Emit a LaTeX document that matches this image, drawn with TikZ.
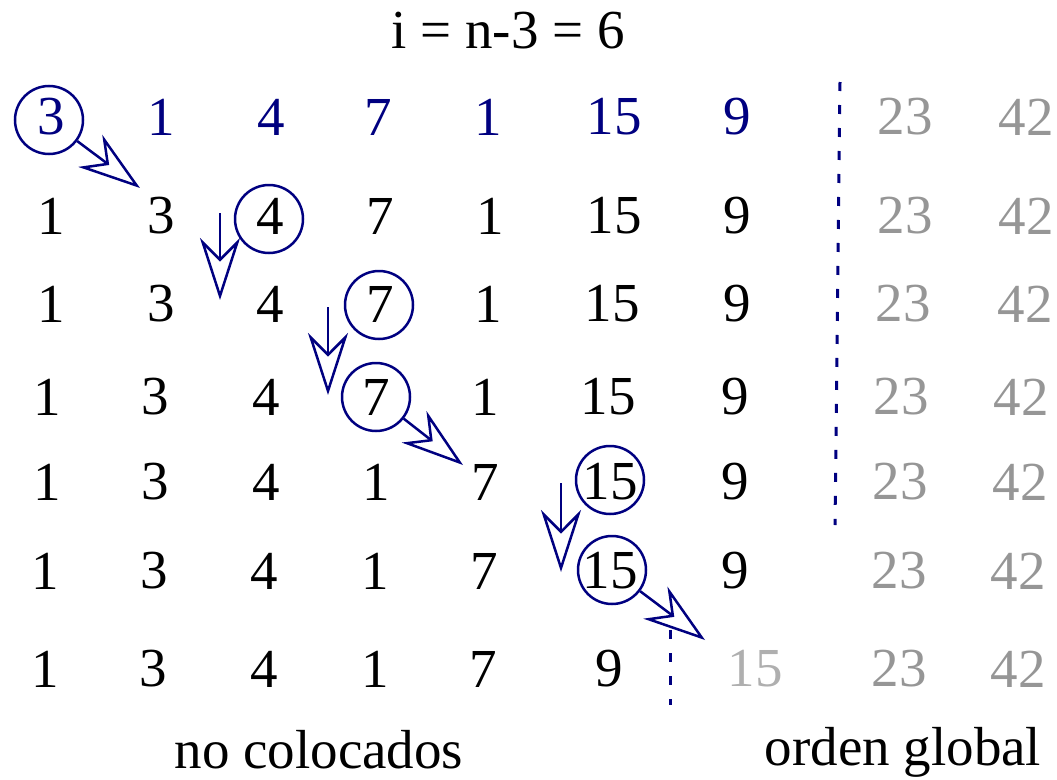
\documentclass[tikz,border=0pt]{standalone}
\usepackage{fontspec}
\setmainfont{Liberation Serif}
\newfontfamily\numfont{Liberation Serif}
\usetikzlibrary{arrows.meta}
\definecolor{navy}{RGB}{0,0,128}
\definecolor{lgray}{RGB}{150,150,150}
\definecolor{llgray}{RGB}{175,175,175}
\begin{document}
\begin{tikzpicture}[x=1pt,y=-1pt,
  num/.style={inner sep=0pt, font=\numfont\fontsize{55}{60}\selectfont},
  lbl/.style={inner sep=0pt, anchor=base, font=\numfont\fontsize{55}{60}\selectfont},
  ring/.style={circle, draw=navy, line width=2.5pt, minimum size=68pt, inner sep=0pt},
  arr/.style={draw=navy, line width=2.5pt, -{Stealth[open, length=62pt, width=40pt, inset=20pt]}},
  sep/.style={draw=navy, line width=3pt, dash pattern=on 9pt off 14pt}]
\useasboundingbox (0,0) rectangle (1057,779);
% title
\node[lbl] (title) at (508,48) {i = n-3 = 6};
% rows
\foreach \x/\t [count=\i] in {51/3,161/1,271/4,378/7,488/1,614/15,737/9}
  \node[num, text=navy] (r0c\i) at (\x,117) {\t};
\foreach \x/\t [count=\i] in {51/1,161/3,270/4,380/7,490/1,614/15,737/9}
  \node[num] (r1c\i) at (\x,216) {\t};
\foreach \x/\t [count=\i] in {51/1,161/3,270/4,380/7,488/1,612/15,737/9}
  \node[num] (r2c\i) at (\x,304) {\t};
\foreach \x/\t [count=\i] in {47/1,155/3,266/4,376/7,485/1,608/15,735/9}
  \node[num] (r3c\i) at (\x,397) {\t};
\foreach \x/\t [count=\i] in {47/1,155/3,266/4,376/1,485/7,610/15,735/9}
  \node[num] (r4c\i) at (\x,482) {\t};
\foreach \x/\t [count=\i] in {45/1,154/3,264/4,375/1,484/7,610/15,735/9}
  \node[num] (r5c\i) at (\x,571) {\t};
\foreach \x/\t [count=\i] in {45/1,153/3,264/4,375/1,483/7,609/9}
  \node[num] (r6c\i) at (\x,669) {\t};
\node[num, text=llgray] (r6c7) at (755,669) {15};
% sorted part
\foreach \y/\a/\b [count=\i from 0] in {117/905/1026,216/905/1026,304/903/1025,397/901/1021,482/900/1020,571/899/1018,669/899/1018}{
  \node[num, text=lgray] (g\i a) at (\a,\y) {23};
  \node[num, text=lgray] (g\i b) at (\b,\y) {42};
}
% circles
\node[ring] (c0) at (49,120) {};
\node[ring] (c1) at (269,219) {};
\node[ring] (c2) at (379,305) {};
\node[ring] (c3) at (376,397) {};
\node[ring] (c4) at (610,480) {};
\node[ring] (c5) at (612,570) {};
% arrows
\coordinate (t0) at (140,188);
\coordinate (s1) at (220,213); \coordinate (t1) at (220,300);
\coordinate (s2) at (328,307); \coordinate (t2) at (328,395);
\coordinate (t3) at (463,465);
\coordinate (s4) at (561,483); \coordinate (t4) at (561,572);
\coordinate (t5) at (705,640);
\draw[arr] (c0) -- (t0);
\draw[arr] (s1) -- (t1);
\draw[arr] (s2) -- (t2);
\draw[arr] (c3) -- (t3);
\draw[arr] (s4) -- (t4);
\draw[arr] (c5) -- (t5);
% separators
\coordinate (d0) at (840,82); \coordinate (d1) at (835,525);
\coordinate (e0) at (670,630); \coordinate (e1) at (670,705);
\draw[sep] (d0) -- (d1);
\draw[sep] (e0) -- (e1);
% labels
\node[lbl] (nc) at (319,768) {no colocados};
\node[lbl] (og) at (903,765) {orden global};
\end{tikzpicture}
\end{document}
